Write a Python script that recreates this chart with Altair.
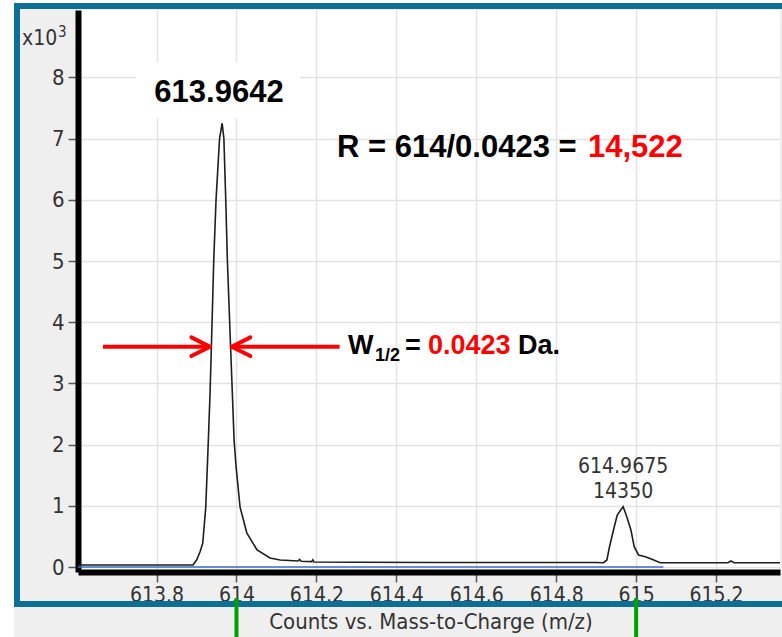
import altair as alt
import pandas as pd

# ---------------- data ----------------
mz = [613.6035, 613.7000, 613.8000, 613.8914, 613.9006, 613.9089, 613.9156, 613.9232,
      613.9297, 613.9339, 613.9382, 613.9432, 613.9489, 613.9577, 613.9642, 613.9685,
      613.9732, 613.9772, 613.9840, 613.9897, 613.9940, 613.9990, 614.0090, 614.0258,
      614.0515, 614.0841, 614.1091, 614.1540, 614.1580, 614.1620, 614.1880, 614.1910,
      614.1940, 614.3000, 614.5000, 614.7000, 614.9000, 614.9184, 614.9269, 614.9334,
      614.9434, 614.9527, 614.9675, 614.9752, 614.9870, 614.9952, 615.0060, 615.0228,
      615.0396, 615.0603, 615.1500, 615.2300, 615.2370, 615.2450, 615.3600]
kcounts = [0.034, 0.034, 0.034, 0.034, 0.12, 0.25, 0.39, 0.98,
           2.08, 2.84, 3.82, 5.02, 6.00, 7.00, 7.25, 7.00,
           6.00, 5.02, 3.82, 2.84, 2.08, 1.64, 0.98, 0.56,
           0.28, 0.15, 0.116, 0.10, 0.125, 0.095, 0.09, 0.12,
           0.083, 0.08, 0.075, 0.075, 0.075, 0.072, 0.116, 0.333,
           0.606, 0.85, 0.987, 0.85, 0.606, 0.333, 0.198, 0.17,
           0.127, 0.072, 0.072, 0.072, 0.10, 0.072, 0.07]

x_ticks = [613.8, 614.0, 614.2, 614.4, 614.6, 614.8, 615.0, 615.2]
y_ticks = [0, 1, 2, 3, 4, 5, 6, 7, 8]

peak2_mz = [614.9675]
peak2_labels = ["614.9675", "14350"]

arrow_tail = [613.666, 614.258]
arrow_tip = [613.934, 613.988]
arrow_y = [3.6, 3.6]
arrow_shape = ["M-1,-0.5L0,0L-1,0.5", "M1,-0.5L0,0L1,0.5"]

zero_line_mz = [613.6035, 615.068]
marker_mz = [614.0, 615.0]

# ---------------- styling ----------------
X_DOMAIN = [613.6035, 615.36]
Y_DOMAIN = [-0.08, 9.1]
W, H = 702, 562
NARROW = "'Liberation Sans Narrow', 'Arial Narrow', 'DejaVu Sans Condensed', 'Liberation Sans', sans-serif"
BOLD = "'Liberation Sans', Arial, sans-serif"
TEAL = "#0b6f97"

xs = alt.Scale(domain=X_DOMAIN, nice=False, zero=False)
ys = alt.Scale(domain=Y_DOMAIN, nice=False, zero=False)
x_axis = alt.Axis(values=x_ticks, format=".1~f", title=None, grid=True,
                  gridColor="#e3e3e3", gridWidth=1.5, domainColor="black",
                  domainWidth=6, tickColor="#555", tickWidth=1.5, tickSize=10,
                  labelFont=NARROW, labelFontSize=21, labelColor="#333",
                  labelPadding=2)
y_axis = alt.Axis(values=y_ticks, format="d", title=None, grid=True,
                  gridColor="#e3e3e3", gridWidth=1.5, domainColor="black",
                  domainWidth=6, tickColor="#555", tickWidth=1.5, tickSize=10,
                  labelFont=NARROW, labelFontSize=22, labelColor="#333",
                  labelPadding=4)


def X(f):
    return alt.X(f, scale=xs, axis=x_axis)


def Y(f):
    return alt.Y(f, scale=ys, axis=y_axis)


one = pd.DataFrame({"a": [0]})
spec_df = pd.DataFrame({"mz": mz, "kcounts": kcounts})
arrows_df = pd.DataFrame({"tail": arrow_tail, "tip": arrow_tip, "ay": arrow_y,
                          "shape": arrow_shape})
zero_df = pd.DataFrame({"x1": [zero_line_mz[0]], "x2": [zero_line_mz[1]], "z": [0]})
marker_df = pd.DataFrame({"mz": marker_mz})
p2_df = pd.DataFrame({"mz": peak2_mz * 2, "label": peak2_labels, "py": [457, 482]})

# white margins outside the frame
white_left = alt.Chart(one).mark_rect(color="white").encode(
    x=alt.value(-78), x2=alt.value(-64), y=alt.value(-10), y2=alt.value(627))
white_top = alt.Chart(one).mark_rect(color="white").encode(
    x=alt.value(-78), x2=alt.value(704), y=alt.value(-10), y2=alt.value(-7))
frame = alt.Chart(one).mark_rect(fillOpacity=0, stroke=TEAL, strokeWidth=6).encode(
    x=alt.value(-61), x2=alt.value(740), y=alt.value(-4), y2=alt.value(594))

label_box = alt.Chart(one).mark_rect(color="white").encode(
    x=alt.value(58), x2=alt.value(222), y=alt.value(52), y2=alt.value(108))

zero_line = alt.Chart(zero_df).mark_rule(color="#3a6fc8", strokeWidth=1.5).encode(
    x=X("x1:Q"), x2="x2:Q", y=Y("z:Q"))

spectrum = alt.Chart(spec_df).mark_line(color="#1e1e1e", strokeWidth=1.6).encode(
    x=X("mz:Q"), y=Y("kcounts:Q"), order="mz:Q")

arrow_lines = alt.Chart(arrows_df).mark_rule(color="#ff0000", strokeWidth=4).encode(
    x=X("tail:Q"), x2="tip:Q", y=Y("ay:Q"))
arrow_heads = alt.Chart(arrows_df).mark_point(
    filled=False, stroke="#ff0000", strokeWidth=4, size=1400, opacity=1,
    strokeCap="round", strokeJoin="round").encode(
    x=X("tip:Q"), y=Y("ay:Q"), shape=alt.Shape("shape:N", scale=None))

peak1_label = alt.Chart(one).mark_text(
    text="613.9642", font=BOLD, fontWeight="bold", fontSize=31, color="black",
    align="center", baseline="alphabetic").encode(x=alt.value(141), y=alt.value(92))

res_black = alt.Chart(one).mark_text(
    text="R = 614/0.0423 =", font=BOLD, fontWeight="bold", fontSize=31,
    color="black", align="left", baseline="alphabetic").encode(
    x=alt.value(259), y=alt.value(147))
res_red = alt.Chart(one).mark_text(
    text="14,522", font=BOLD, fontWeight="bold", fontSize=31,
    color="#ff0000", align="left", baseline="alphabetic").encode(
    x=alt.value(510), y=alt.value(147))

w_main = alt.Chart(one).mark_text(
    text="W", font=BOLD, fontWeight="bold", fontSize=27, color="black",
    align="left", baseline="alphabetic").encode(x=alt.value(270), y=alt.value(344))
w_sub = alt.Chart(one).mark_text(
    text="1/2", font=BOLD, fontWeight="bold", fontSize=18, color="black",
    align="left", baseline="alphabetic").encode(x=alt.value(297), y=alt.value(351))
w_eq = alt.Chart(one).mark_text(
    text="=", font=BOLD, fontWeight="bold", fontSize=27, color="black",
    align="left", baseline="alphabetic").encode(x=alt.value(327), y=alt.value(344))
w_val = alt.Chart(one).mark_text(
    text="0.0423", font=BOLD, fontWeight="bold", fontSize=27, color="#ff0000",
    align="left", baseline="alphabetic").encode(x=alt.value(350), y=alt.value(344))
w_unit = alt.Chart(one).mark_text(
    text="Da.", font=BOLD, fontWeight="bold", fontSize=27, color="black",
    align="left", baseline="alphabetic").encode(x=alt.value(440), y=alt.value(344))

p2_text = alt.Chart(p2_df).mark_text(
    font=NARROW, fontSize=21, color="#333", align="center", baseline="middle").encode(
    x=X("mz:Q"), y=alt.Y("py:Q", scale=None), text="label:N")

x10 = alt.Chart(one).mark_text(
    text="x10", font=NARROW, fontSize=21, color="#333", align="left",
    baseline="alphabetic").encode(x=alt.value(-56), y=alt.value(35))
x10_exp = alt.Chart(one).mark_text(
    text="3", font=NARROW, fontSize=15, color="#333", align="left",
    baseline="alphabetic").encode(x=alt.value(-20), y=alt.value(27))

x_title = alt.Chart(one).mark_text(
    text="Counts vs. Mass-to-Charge (m/z)", font=NARROW, fontSize=22, color="#333",
    align="center", baseline="middle").encode(x=alt.value(353), y=alt.value(612))

markers = alt.Chart(marker_df).mark_rule(color="#00a000", strokeWidth=4).encode(
    x=X("mz:Q"), y=alt.value(588), y2=alt.value(630))

chart = alt.layer(
    white_left, white_top, frame, label_box, zero_line, spectrum,
    arrow_lines, arrow_heads, peak1_label, res_black, res_red,
    w_main, w_sub, w_eq, w_val, w_unit, p2_text, x10, x10_exp, x_title, markers
).properties(
    width=W, height=H, background="#efefef",
    padding={"left": 78, "top": 10, "right": 2, "bottom": 65},
    autosize=alt.AutoSizeParams(type="none"),
).configure_view(fill="white", strokeWidth=0)

chart.save("out.html", embed_options={"renderer": "svg", "actions": False})
